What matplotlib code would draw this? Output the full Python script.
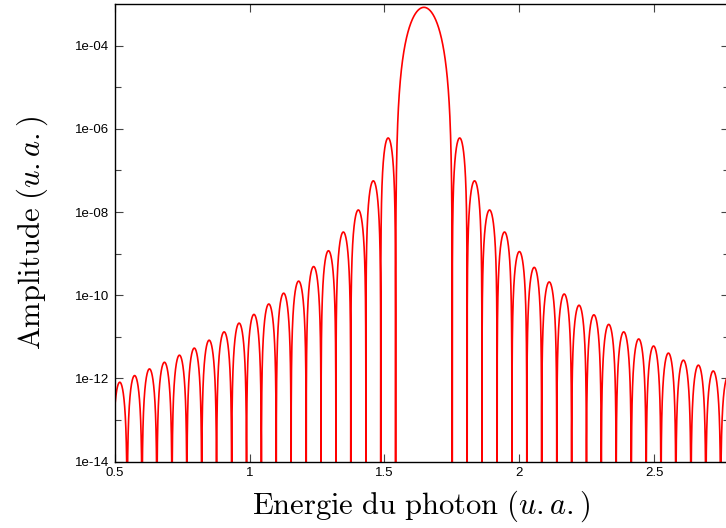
import numpy as np
import matplotlib
matplotlib.use("Agg")
import matplotlib.pyplot as plt
from matplotlib.ticker import FixedLocator, NullFormatter

# lobe boundaries (zeros of the spectrum)
zeros_x = [0.492, 0.547, 0.602, 0.657, 0.713, 0.768, 0.823, 0.878, 0.934, 0.989,
           1.044, 1.099, 1.154, 1.210, 1.265, 1.320, 1.375, 1.431, 1.486, 1.541,
           1.751, 1.806, 1.861, 1.917, 1.972, 2.027, 2.082, 2.138, 2.193, 2.248,
           2.303, 2.358, 2.414, 2.469, 2.524, 2.579, 2.635, 2.690, 2.745, 2.800]

# log10 of the maximum of each lobe (between consecutive zeros)
peak_log10 = [-12.09, -11.93, -11.77, -11.61, -11.44, -11.27, -11.08, -10.88,
              -10.67, -10.46, -10.21, -9.95, -9.66, -9.31, -8.93, -8.48,
              -7.95, -7.25, -6.22,
              -3.08,
              -6.22, -7.25, -7.95, -8.48, -8.95, -9.33, -9.68, -9.97, -10.24,
              -10.47, -10.70, -10.88, -11.05, -11.22, -11.39, -11.56, -11.68,
              -11.82, -11.95]
central_lobe = 19

x_ticks = [0.5, 1, 1.5, 2, 2.5]
x_ticklabels = ["0.5", "1", "1.5", "2", "2.5"]
y_ticks = [1e-14, 1e-12, 1e-10, 1e-8, 1e-6, 1e-4]
y_ticklabels = ["1e-14", "1e-12", "1e-10", "1e-08", "1e-06", "1e-04"]

plt.rcParams['mathtext.fontset'] = 'cm'

# build the curve lobe by lobe
xs, ys = [], []
for i in range(len(peak_log10)):
    t = np.linspace(0, 1, 400)
    p = 3 if i == central_lobe else 2
    xs.append(zeros_x[i] + t * (zeros_x[i + 1] - zeros_x[i]))
    ys.append(10 ** peak_log10[i] * np.sin(np.pi * t) ** p)
x = np.concatenate(xs)
y = np.maximum(np.concatenate(ys), 1e-22)

fig = plt.figure(figsize=(7.26, 5.28), dpi=100)
ax = fig.add_axes([114.5 / 726, (528 - 461.7) / 528, (729 - 114.5) / 726, (461.7 - 4) / 528])

ax.plot(x, y, color='#ff0000', lw=1.2)

ax.set_yscale('log')
ax.set_xlim(0.5, 0.5 + (729 - 114.5) / 270)
ax.set_ylim(1e-14, 1e-3)

ax.xaxis.set_major_locator(FixedLocator(x_ticks))
ax.set_xticklabels(x_ticklabels)
ax.yaxis.set_major_locator(FixedLocator(y_ticks))
ax.set_yticklabels(y_ticklabels)
ax.yaxis.set_minor_locator(FixedLocator([1e-13, 1e-11, 1e-9, 1e-7, 1e-5]))
ax.yaxis.set_minor_formatter(NullFormatter())

ax.tick_params(which='both', direction='in', top=True, right=True,
               color='#444444', width=0.8, labelsize=9.5, pad=4)
ax.tick_params(which='major', length=5.5)
ax.tick_params(which='minor', length=4)
for lab in ax.get_xticklabels() + ax.get_yticklabels():
    lab.set_fontfamily('Liberation Sans')

for s in ax.spines.values():
    s.set_linewidth(1.0)

ax.set_xlabel(r"$\mathrm{Energie\ du\ photon}\ (\mathit{u{.}a{.}})$", fontsize=22, labelpad=7)
ax.set_ylabel(r"$\mathrm{Amplitude}\ (\mathit{u{.}a{.}})$", fontsize=22, labelpad=18)

fig.savefig("out.png", dpi=100)
